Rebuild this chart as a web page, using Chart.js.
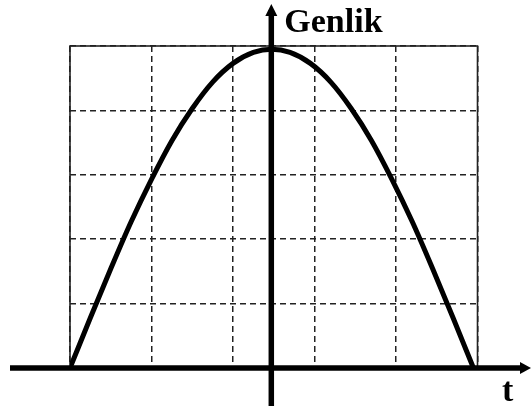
<!DOCTYPE html>
<html>
<head>
<meta charset="utf-8">
<script src="https://cdn.jsdelivr.net/npm/chart.js@4/dist/chart.umd.min.js"></script>
<style>
  html, body { margin: 0; padding: 0; background: #fff; }
  canvas { display: block; }
</style>
</head>
<body>
<canvas id="waveChart" width="531" height="406"></canvas>
<script>
// time positions (grid units) and amplitude
const tValues = [0, 0.25, 0.5, 0.75, 1, 1.25, 1.5, 1.75, 2, 2.25, 2.475, 2.7, 2.95, 3.2, 3.45, 3.7, 3.95, 4.2, 4.45, 4.7, 4.95];
const amplitude = [0, 0.78, 1.54, 2.27, 2.93, 3.53, 4.03, 4.44, 4.73, 4.9, 4.95, 4.9, 4.73, 4.44, 4.03, 3.53, 2.93, 2.27, 1.54, 0.78, 0];
const gridTicks = [0, 1, 2, 3, 4, 5];
const yAxisAt = 2.47;
const yLabel = 'Genlik';
const xLabel = 't';

const INK = '#000';

// solid frame, arrows and axis labels
const axesPlugin = {
  id: 'axes',
  beforeDatasetsDraw(chart) {
    const { ctx, chartArea: a } = chart;
    ctx.save();
    ctx.strokeStyle = '#222';
    ctx.lineWidth = 1.6;
    ctx.strokeRect(a.left, a.top, a.right - a.left, a.bottom - a.top);
    ctx.restore();
  },
  afterDatasetsDraw(chart) {
    const { ctx, width, height, scales } = chart;
    const y0 = scales.y.getPixelForValue(0);
    const x0 = scales.x.getPixelForValue(yAxisAt);
    ctx.save();
    ctx.strokeStyle = INK;
    ctx.fillStyle = INK;
    ctx.lineWidth = 5.5;
    // horizontal axis
    ctx.beginPath();
    ctx.moveTo(10, y0);
    ctx.lineTo(width - 6, y0);
    ctx.stroke();
    ctx.beginPath();
    ctx.moveTo(width, y0);
    ctx.lineTo(width - 11, y0 - 6);
    ctx.lineTo(width - 11, y0 + 6);
    ctx.closePath();
    ctx.fill();
    // vertical axis
    ctx.beginPath();
    ctx.moveTo(x0, height);
    ctx.lineTo(x0, 10);
    ctx.stroke();
    ctx.beginPath();
    ctx.moveTo(x0, 4);
    ctx.lineTo(x0 - 6, 16);
    ctx.lineTo(x0 + 6, 16);
    ctx.closePath();
    ctx.fill();
    // labels
    ctx.font = 'bold 34px "Liberation Serif", "DejaVu Serif", serif';
    ctx.textBaseline = 'alphabetic';
    ctx.textAlign = 'left';
    ctx.fillText(yLabel, x0 + 13, 32);
    ctx.fillText(xLabel, width - 29, height - 5);
    ctx.restore();
  }
};

new Chart(document.getElementById('waveChart'), {
  type: 'line',
  data: {
    datasets: [{
      data: tValues.map((t, i) => ({ x: t, y: amplitude[i] })),
      borderColor: INK,
      borderWidth: 5,
      pointRadius: 0,
      tension: 0.4,
      cubicInterpolationMode: 'monotone',
      fill: false,
    }],
  },
  options: {
    responsive: false,
    animation: false,
    layout: { padding: { left: 70, right: 53.5, top: 46, bottom: 38 } },
    plugins: { legend: { display: false }, tooltip: { enabled: false } },
    scales: {
      x: {
        type: 'linear', min: 0, max: 5,
        afterBuildTicks: s => { s.ticks = gridTicks.map(v => ({ value: v })); },
        ticks: { display: false },
        grid: { color: '#222', lineWidth: 1.5, drawTicks: false },
        border: { display: false, dash: [6, 4] },
      },
      y: {
        type: 'linear', min: 0, max: 5,
        afterBuildTicks: s => { s.ticks = gridTicks.map(v => ({ value: v })); },
        ticks: { display: false },
        grid: { color: '#222', lineWidth: 1.5, drawTicks: false },
        border: { display: false, dash: [6, 4] },
      },
    },
  },
  plugins: [axesPlugin],
});
</script>
</body>
</html>
